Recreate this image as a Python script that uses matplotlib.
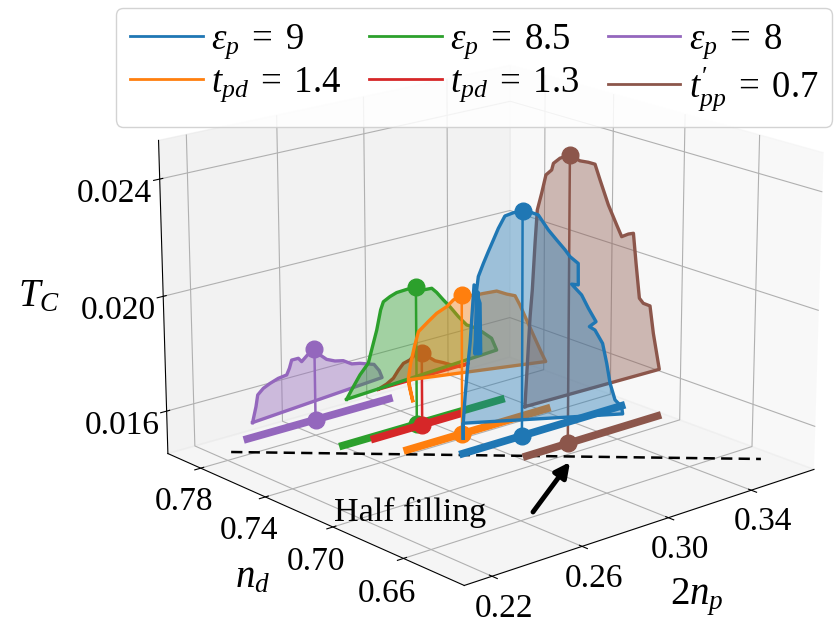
import matplotlib
matplotlib.use('Agg')
import matplotlib.pyplot as plt
import numpy as np
from mpl_toolkits.mplot3d.art3d import Poly3DCollection

plt.rcParams['font.family'] = ['Liberation Serif', 'DejaVu Serif']
plt.rcParams['mathtext.fontset'] = 'custom'
plt.rcParams['mathtext.rm'] = 'Liberation Serif'
plt.rcParams['mathtext.it'] = 'Liberation Serif:italic'

# ---- data: 2n_p (x, units 1e-4), T_C (z, units 1e-5), at constant n_d ----
purple_x = [2413,2430,2439,2465,2496,2534,2573,2586,2597,2628,2643,2670,2703,2729,2759,2798,2837,2877,2916,2956,2983,3008,3021]
purple_z = [1503,1556,1596,1614,1625,1635,1639,1660,1687,1687,1672,1690,1701,1678,1656,1642,1635,1615,1609,1598,1591,1563,1535]
green_x = [2626,2658,2689,2728,2744,2769,2788,2801,2832,2863,2910,2954,2989,3029,3052,3084,3116,3156,3196,3245,3277,3318,3343]
green_z = [1610,1648,1683,1716,1759,1825,1892,1918,1930,1938,1940,1941,1923,1921,1902,1869,1838,1795,1757,1735,1713,1684,1636]
red_x = [2758,2797,2829,2853,2877,2908,2932,2964,2995,3027,3067,3107,3147,3188]
red_z = [1622,1632,1646,1670,1689,1695,1711,1709,1688,1667,1652,1635,1621,1624]
orange_x = [2779,2764,2760,2771,2789,2808,2854,2894,2941,2972,3012,3067,3115,3179,3227,3268,3292,3325,3366,3400,3420,2760]
orange_z = [1619,1671,1702,1752,1807,1855,1881,1902,1916,1933,1943,1930,1928,1924,1904,1890,1852,1792,1718,1657,1623,1696]
brown_x = [3026,3037,3049,3059,3071,3081,3101,3121,3148,3156,3187,3234,3282,3323,3355,3380,3422,3464,3489,3522,3547,3562,3581,3601,3635,3654,3687]
brown_z = [1626,1775,1935,2025,2182,2294,2347,2406,2418,2439,2451,2454,2426,2414,2402,2344,2250,2173,2128,2131,2129,2021,1894,1872,1856,1754,1618]
blue_x = [2881,2881,2890,2901,2914,2933,2961,2964,2950,2952,2937,2945,2953,2977,3000,3024,3047,3078,3118,3162,3205,3237,3286,3327,3368,3392,3433,3434,3401,3451,3485,3524,3491,3519,3558,3580,3598,3624,3658,3664,2881]
blue_z = [1504,1557,1649,1740,1830,2029,1960,1785,1786,2000,1788,2009,2054,2095,2131,2167,2202,2239,2243,2242,2228,2214,2153,2110,2068,2040,2008,1932,1941,1893,1839,1783,1772,1754,1698,1621,1545,1479,1447,1419,1557]

nd_vals = [0.794, 0.762, 0.764, 0.744, 0.709, 0.727]
bar_start = [0.2371, 0.2721, 0.2589, 0.2735, 0.3017, 0.2862]
bar_end = [0.3071, 0.3166, 0.3383, 0.3445, 0.3700, 0.3676]
peak_x = [0.2703, 0.2964, 0.2954, 0.3012, 0.3234, 0.3162]
peak_z = [0.01705, 0.01707, 0.01941, 0.01943, 0.02454, 0.02242]
colors = ['#9467bd', '#d62728', '#2ca02c', '#ff7f0e', '#8c564b', '#1f77b4']
curves_x = [purple_x, red_x, green_x, orange_x, brown_x, blue_x]
curves_z = [purple_z, red_z, green_z, orange_z, brown_z, blue_z]
layer = [10, 15, 20, 26, 32, 38]
bar_layer = [12, 24, 22, 28, 34, 40]

half_x = [0.2261, 0.3647]
half_y = [0.7865, 0.6481]
x_ticks = [0.22, 0.26, 0.30, 0.34]
y_ticks = [0.66, 0.70, 0.74, 0.78]
z_ticks = [0.016, 0.020, 0.024]
legend_labels = ['$\\epsilon_p\\;=\\;9$', '$t_{pd}\\;=\\;1.4$', '$\\epsilon_p\\;=\\;8.5$',
                 '$t_{pd}\\;=\\;1.3$', '$\\epsilon_p\\;=\\;8$', "$t^{\\prime}_{pp}\\;=\\;0.7$"]
legend_colors = ['#1f77b4', '#ff7f0e', '#2ca02c', '#d62728', '#9467bd', '#8c564b']

X0, X1, Y0, Y1, Z0, Z1 = 0.208, 0.3714, 0.627, 0.801, 0.0145, 0.0253

fig = plt.figure(figsize=(8.35, 6.24), dpi=100)
ax = fig.add_axes([0.05, -0.03, 1.05, 1.05], projection='3d', computed_zorder=False)
ax.set_box_aspect((4, 4, 2.85), zoom=1.09)
ax.view_init(elev=18, azim=-131)
ax.set_xlim(X0, X1); ax.set_ylim(Y0, Y1); ax.set_zlim(Z0, Z1)
ax.set_xticks(x_ticks); ax.set_yticks(y_ticks); ax.set_zticks(z_ticks)
ax.set_xticklabels([f'{v:.2f}' for v in x_ticks])
ax.set_yticklabels([f'{v:.2f}' for v in y_ticks])
ax.set_zticklabels([f'{v:.3f}' for v in z_ticks])
ax.tick_params(labelsize=24)
ax.tick_params(axis='z', pad=9)
ax.tick_params(axis='x', pad=1)
ax.tick_params(axis='y', pad=3)

ax.plot(half_x, half_y, [Z0, Z0], color='k', ls=(0, (4.5, 2.5)), lw=1.8, zorder=9)

for cx, cz, nd, b0, b1, px, pz, c, zz, bz in zip(curves_x, curves_z, nd_vals, bar_start, bar_end,
                                                 peak_x, peak_z, colors, layer, bar_layer):
    x = np.array(cx + cx[:1]) / 1e4
    z = np.array(cz + cz[:1]) / 1e5
    y = np.full(len(x), nd)
    ax.add_collection3d(Poly3DCollection([list(zip(x, y, z))], facecolor=c, alpha=0.4,
                                         edgecolor='none', zorder=zz))
    ax.plot(x, y, z, color=c, lw=2.4, zorder=zz + 1)
    ax.plot([px, px], [nd, nd], [Z0, pz], color=c, lw=1.8, zorder=zz + 1)
    ax.plot([px], [nd], [pz], 'o', color=c, ms=12, zorder=zz + 1)
    ax.plot([b0, b1], [nd, nd], [Z0, Z0], color=c, lw=5.5, solid_capstyle='butt', zorder=bz)
    ax.plot([px], [nd], [Z0], 'o', color=c, ms=12, zorder=bz)

fig.text(39/835, 1-297/624, '$T_C$', fontsize=28, ha='center', va='center')
fig.text(253/835, 1-578/624, '$n_d$', fontsize=28, ha='center', va='center')
fig.text(697/835, 1-597/624, '$2n_p$', fontsize=28, ha='center', va='center')
fig.text(410/835, 1-512/624, 'Half filling', fontsize=24.5, ha='center', va='center')
ax.annotate('', xy=(570/835, 1-462/624), xytext=(533/835, 1-512/624),
            xycoords='figure fraction', textcoords='figure fraction',
            arrowprops=dict(arrowstyle='-|>', lw=3.5, color='k', mutation_scale=22, shrinkA=0, shrinkB=0))

hs = [plt.Line2D([], [], color=c, lw=2) for c in legend_colors]
fig.legend(hs, legend_labels, ncol=3, fontsize=26.5, loc='upper left',
           bbox_to_anchor=(116/835, 1-8/624), bbox_transform=fig.transFigure, borderaxespad=0,
           handlelength=1.98, labelspacing=0.12, columnspacing=0.76, handletextpad=0.22,
           borderpad=0.38, framealpha=0.85)
fig.savefig('out.png', dpi=100)
